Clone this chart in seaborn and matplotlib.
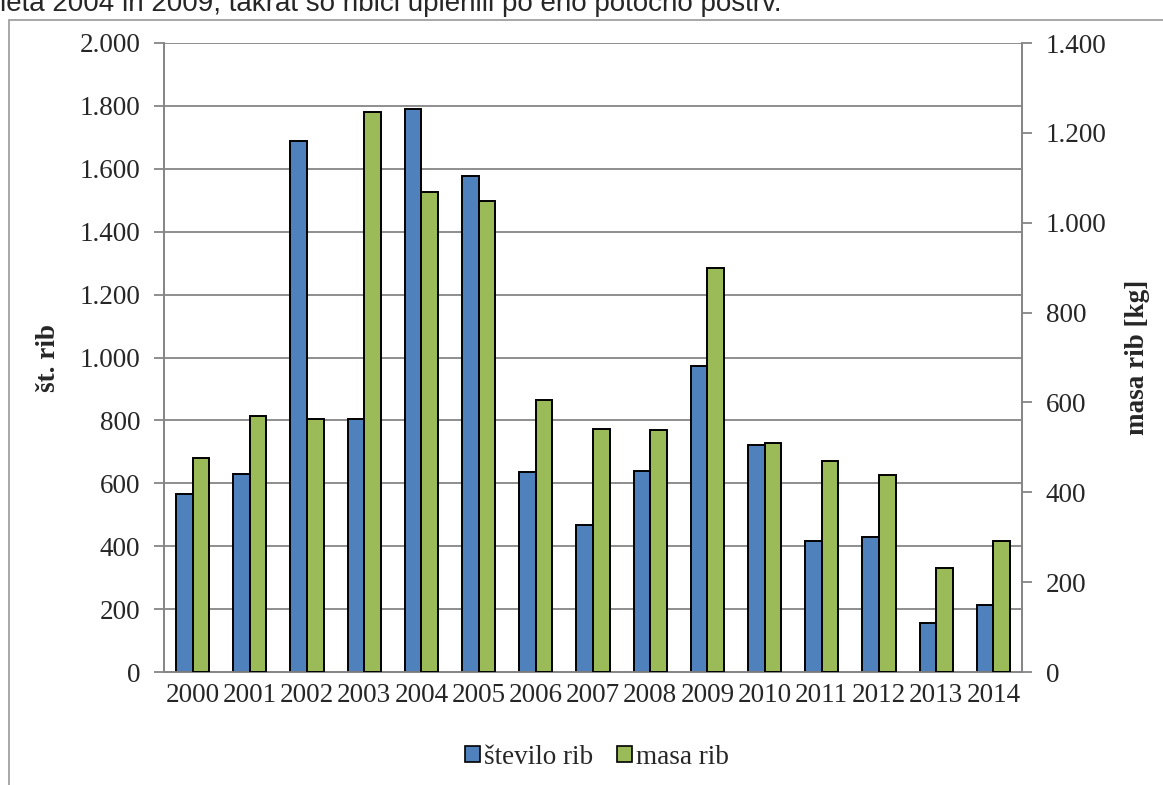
import matplotlib
matplotlib.use("Agg")
import matplotlib.pyplot as plt
from matplotlib.patches import Rectangle, Patch
from matplotlib.ticker import FuncFormatter, FixedLocator
import seaborn as sns
import pandas as pd
import numpy as np

# Letni ulov rib
years = [str(y) for y in range(2000, 2015)]
stevilo_rib = [566, 631, 1687, 805, 1790, 1577, 635, 468, 638, 972, 722, 416, 428, 157, 213]
masa_rib = [476, 570, 564, 1246, 1069, 1048, 606, 540, 538, 899, 510, 469, 438, 232, 291]
series = ["število rib", "masa rib"]
colors = ["#4F81BD", "#9BBB59"]
left_ticks = [0, 200, 400, 600, 800, 1000, 1200, 1400, 1600, 1800, 2000]
right_ticks = [0, 200, 400, 600, 800, 1000, 1200, 1400]

n = len(years)
nan = [np.nan] * n
# Both tables keep both series so the bars are dodged side by side;
# each axis only receives values for its own series.
df_left = pd.DataFrame({
    "leto": years * 2,
    "serija": [series[0]] * n + [series[1]] * n,
    "vrednost": stevilo_rib + nan,
})
df_right = pd.DataFrame({
    "leto": years * 2,
    "serija": [series[0]] * n + [series[1]] * n,
    "vrednost": nan + masa_rib,
})

sns.set_style("white")
plt.rcParams["font.family"] = ["Liberation Serif", "DejaVu Serif"]

W, H = 1163, 785
fig = plt.figure(figsize=(W / 100, H / 100), dpi=100)
ax1 = fig.add_axes([164 / W, 1 - 672 / H, (1022 - 164) / W, (672 - 43) / H])
ax2 = ax1.twinx()

grid_c = "#868686"
FS = 19.5
bar_kw = dict(x="leto", y="vrednost", hue="serija", hue_order=series,
              palette=colors, width=0.58, gap=0, saturation=1,
              edgecolor="black", linewidth=1.4, legend=False, errorbar=None)

sns.barplot(data=df_left, ax=ax1, zorder=3, **bar_kw)
sns.barplot(data=df_right, ax=ax2, zorder=3, **bar_kw)

thousands = FuncFormatter(lambda v, p: f"{int(v):,}".replace(",", "."))

ax1.set_ylim(0, 2000)
ax1.set_yticks(left_ticks)
ax1.yaxis.set_major_formatter(thousands)
ax2.set_ylim(0, 1400)
ax2.set_yticks(right_ticks)
ax2.yaxis.set_major_formatter(thousands)
ax1.set_xlim(-0.5, n - 0.5)

ax1.grid(axis="y", color=grid_c, linewidth=1.3, zorder=0)
ax1.set_axisbelow(True)
ax2.grid(False)

for ax in (ax1, ax2):
    for s in ax.spines.values():
        s.set_color(grid_c)
        s.set_linewidth(1.3)
    ax.spines["top"].set_visible(False)
    ax.set_xlabel("")
    ax.set_ylabel("")

ax1.set_xticks(range(n))
ax1.set_xticklabels(years)
ax1.xaxis.set_minor_locator(FixedLocator([i - 0.5 for i in range(n + 1)]))
ax1.tick_params(axis="x", which="major", length=0, pad=8, labelsize=FS)
ax1.tick_params(axis="x", which="minor", length=6, width=1.3, color=grid_c, direction="out")
ax1.tick_params(axis="y", length=7, width=1.3, color=grid_c, direction="out", pad=10,
                labelsize=FS, left=True)
ax2.tick_params(axis="y", length=7, width=1.3, color=grid_c, direction="out", pad=10,
                labelsize=FS, right=True)

ax1.set_ylabel("št. rib", fontsize=FS, fontweight="bold", labelpad=13)
ax2.set_ylabel("masa rib [kg]", fontsize=FS, fontweight="bold", labelpad=13)

handles = [Patch(facecolor=c, edgecolor="black", linewidth=1.2) for c in colors]
fig.legend(handles, series, loc="center", bbox_to_anchor=(597 / W, 1 - 757 / H),
           ncol=2, frameon=False, fontsize=FS, handlelength=0.56, handleheight=0.56,
           handletextpad=0.15, columnspacing=0.85, borderpad=0)

# Okvir grafikona
fig.patches.append(Rectangle((9 / W, -0.1), 1.2, 1 - 20 / H + 0.1,
                             transform=fig.transFigure, fill=False,
                             edgecolor="#a0a0a0", linewidth=1.3))

fig.text(0.0, 1 - 11 / H, "leta 2004 in 2009, takrat so ribiči uplenili po eno potočno postrv.",
         family=["Liberation Sans", "DejaVu Sans"], fontsize=20, va="baseline", ha="left")

fig.savefig("out.png", dpi=100)
